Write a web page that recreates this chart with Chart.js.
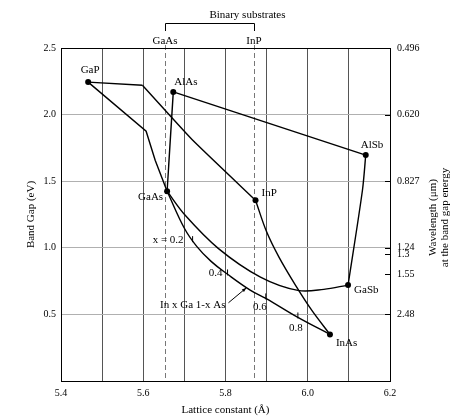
<!DOCTYPE html>
<html>
<head>
<meta charset="utf-8">
<script src="https://cdn.jsdelivr.net/npm/chart.js@4/dist/chart.umd.min.js"></script>
<style>
html,body{margin:0;padding:0;background:#fff;}
canvas{display:block;}
</style>
</head>
<body>
<canvas id="c" width="451" height="417"></canvas>
<script>
// ---- Data ----
const compounds = ['GaP', 'AlAs', 'GaAs', 'InP', 'AlSb', 'GaSb', 'InAs'];
const compoundA = [5.466, 5.673, 5.658, 5.873, 6.141, 6.098, 6.054];
const compoundE = [2.244, 2.170, 1.425, 1.357, 1.696, 0.720, 0.350];

const gapInpA = [5.466, 5.598];            // GaP -> kink (straight)
const gapInpE = [2.244, 2.220];
const kinkInpA = [5.598, 5.718, 5.873];    // kink -> InP
const kinkInpE = [2.220, 1.815, 1.357];

const gapGaasA = [5.466, 5.607, 5.629, 5.658];
const gapGaasE = [2.244, 1.875, 1.658, 1.425];

const alasGaasA = [5.673, 5.658];
const alasGaasE = [2.170, 1.425];

const alasAlsbA = [5.673, 6.141];
const alasAlsbE = [2.170, 1.696];

const alsbGasbA = [6.141, 6.133, 6.098];
const alsbGasbE = [1.696, 1.432, 0.720];

const inpInasA = [5.873, 5.900, 5.930, 5.970, 6.010, 6.054];
const inpInasE = [1.357, 1.120, 0.930, 0.720, 0.530, 0.350];

const ingaasA = [5.658, 5.700, 5.730, 5.765, 5.805, 5.861, 5.898, 5.976, 6.054];
const ingaasE = [1.425, 1.147, 1.011, 0.898, 0.801, 0.680, 0.620, 0.477, 0.350];

const gaasGasbA = [5.658, 5.702, 5.783, 5.885, 5.976, 6.039, 6.098];
const gaasGasbE = [1.425, 1.244, 0.994, 0.780, 0.680, 0.688, 0.720];

const fractionLabels = ['x = 0.2', '0.4', '0.6', '0.8'];
const fractionA = [5.720, 5.805, 5.898, 5.976];
const fractionE = [1.050, 0.800, 0.620, 0.477];

const substrateNames = ['GaAs', 'InP'];
const substrateA = [5.653, 5.869];

const wavelengthLabels = ['0.496', '0.620', '0.827', '1.24', '1.3', '1.55', '2.48'];
const wavelengthValues = [0.496, 0.620, 0.827, 1.24, 1.3, 1.55, 2.48];

const xTickMin = 5.4, xTickMax = 6.2;
const yMin = 0, yMax = 2.5;

// ---- Styles ----
const FONT = "'Liberation Serif', 'Times New Roman', serif";
const labelOffsets = {
  GaP:  {dx: 2,  dy: -12, align: 'center'},
  AlAs: {dx: 1,  dy: -10, align: 'left'},
  GaAs: {dx: -4, dy: 6,   align: 'right'},
  InP:  {dx: 6,  dy: -7,  align: 'left'},
  AlSb: {dx: -5, dy: -10, align: 'left'},
  GaSb: {dx: 6,  dy: 5,   align: 'left'},
  InAs: {dx: 6,  dy: 9,   align: 'left'}
};
const fractionOffsets = [
  {dx: -9, dy: -1, align: 'right'},
  {dx: -5, dy: -1, align: 'right'},
  {dx: -6, dy: 9, align: 'center'},
  {dx: -2, dy: 11, align: 'center'}
];

const pts = (a, e) => a.map((v, i) => ({x: v, y: e[i]}));
const lineDs = (a, e, tension) => ({
  data: pts(a, e), showLine: true, pointRadius: 0, borderColor: '#000',
  borderWidth: 1.4, tension: tension, fill: false
});

const energies = wavelengthValues.map(l => 1.24 / l);

const decor = {
  id: 'decor',
  beforeDatasetsDraw(chart) {
    const {ctx, chartArea: ca, scales: {x}} = chart;
    ctx.save();
    ctx.strokeStyle = '#777';
    ctx.lineWidth = 1;
    ctx.setLineDash([5, 3]);
    substrateA.forEach(a => {
      const px = Math.round(x.getPixelForValue(a)) + 0.5;
      ctx.beginPath();
      ctx.moveTo(px, ca.top - 3);
      ctx.lineTo(px, ca.bottom);
      ctx.stroke();
    });
    ctx.restore();
  },
  afterDraw(chart) {
    const {ctx, chartArea: ca, scales: {x, y}} = chart;
    ctx.save();
    // frame
    ctx.strokeStyle = '#000';
    ctx.lineWidth = 1;
    ctx.setLineDash([]);
    ctx.strokeRect(Math.round(ca.left) + 0.5, Math.round(ca.top) + 0.5,
      Math.round(ca.right - ca.left), Math.round(ca.bottom - ca.top));
    // inside ticks on the right axis
    energies.forEach(en => {
      const py = Math.round(y.getPixelForValue(en)) + 0.5;
      ctx.beginPath();
      ctx.moveTo(ca.right - 5, py);
      ctx.lineTo(ca.right, py);
      ctx.stroke();
    });
    // compound labels
    ctx.fillStyle = '#000';
    ctx.font = '11px ' + FONT;
    ctx.textBaseline = 'middle';
    compounds.forEach((name, i) => {
      const o = labelOffsets[name];
      ctx.textAlign = o.align;
      ctx.fillText(name, x.getPixelForValue(compoundA[i]) + o.dx, y.getPixelForValue(compoundE[i]) + o.dy);
    });
    // InGaAs composition ticks
    ctx.lineWidth = 1;
    fractionLabels.forEach((t, i) => {
      const px = x.getPixelForValue(fractionA[i]);
      const py = y.getPixelForValue(fractionE[i]);
      ctx.beginPath();
      ctx.moveTo(px, py - 5);
      ctx.lineTo(px, py + 1);
      ctx.stroke();
      const o = fractionOffsets[i];
      ctx.textAlign = o.align;
      ctx.fillText(t, px + o.dx, py + o.dy);
    });
    // In x Ga 1-x As label with arrow
    const ax = x.getPixelForValue(5.851), ay = y.getPixelForValue(0.700);
    ctx.textAlign = 'right';
    ctx.fillText('In x Ga 1-x As', ax - 21, ay + 17);
    ctx.beginPath();
    ctx.moveTo(ax - 18, ay + 15);
    ctx.lineTo(ax, ay);
    ctx.stroke();
    const ang = Math.atan2(15, -18);
    ctx.beginPath();
    ctx.moveTo(ax, ay);
    ctx.lineTo(ax + 5 * Math.cos(ang - 0.35), ay + 5 * Math.sin(ang - 0.35));
    ctx.lineTo(ax + 5 * Math.cos(ang + 0.35), ay + 5 * Math.sin(ang + 0.35));
    ctx.closePath();
    ctx.fill();
    // Binary substrates bracket
    const g = x.getPixelForValue(substrateA[0]), p = x.getPixelForValue(substrateA[1]);
    ctx.strokeStyle = '#000';
    ctx.beginPath();
    ctx.moveTo(Math.round(g) + 0.5, 31);
    ctx.lineTo(Math.round(g) + 0.5, 23.5);
    ctx.lineTo(Math.round(p) + 0.5, 23.5);
    ctx.lineTo(Math.round(p) + 0.5, 31);
    ctx.stroke();
    ctx.textAlign = 'center';
    ctx.fillText('Binary substrates', (g + p) / 2 + 38, 15);
    substrateNames.forEach((n, i) => {
      ctx.fillText(n, x.getPixelForValue(substrateA[i]), 41);
    });
    // axis titles
    ctx.fillText('Lattice constant (\u00C5)', (ca.left + ca.right) / 2, 410);
    ctx.save();
    ctx.translate(31, (ca.top + ca.bottom) / 2);
    ctx.rotate(-Math.PI / 2);
    ctx.fillText('Band Gap (eV)', 0, 0);
    ctx.restore();
    ctx.save();
    ctx.translate(433, (ca.top + ca.bottom) / 2 + 3);
    ctx.rotate(-Math.PI / 2);
    ctx.fillText('Wavelength (\u03BCm)', 0, 0);
    ctx.fillText('at the band gap energy', 0, 12);
    ctx.restore();
    ctx.restore();
  }
};

new Chart(document.getElementById('c'), {
  type: 'scatter',
  data: {
    datasets: [
      lineDs(gapInpA, gapInpE, 0),
      lineDs(kinkInpA, kinkInpE, 0.15),
      lineDs(gapGaasA, gapGaasE, 0),
      lineDs(alasGaasA, alasGaasE, 0),
      lineDs(alasAlsbA, alasAlsbE, 0),
      lineDs(alsbGasbA, alsbGasbE, 0.3),
      lineDs(inpInasA, inpInasE, 0.35),
      lineDs(ingaasA, ingaasE, 0.4),
      lineDs(gaasGasbA, gaasGasbE, 0.35),
      {
        data: pts(compoundA, compoundE), showLine: false, pointRadius: 3,
        pointBackgroundColor: '#000', pointBorderColor: '#000', pointBorderWidth: 0
      }
    ]
  },
  options: {
    responsive: false,
    animation: false,
    events: [],
    layout: {padding: {top: 48, left: 0, right: 0, bottom: 0}},
    plugins: {legend: {display: false}, tooltip: {enabled: false}},
    scales: {
      x: {
        type: 'linear', min: xTickMin, max: xTickMax,
        ticks: {
          stepSize: 0.1, autoSkip: false, maxRotation: 0, padding: 6, color: '#000',
          font: {family: FONT, size: 10},
          callback: v => (Math.round(v * 10) % 2 === 0 ? v.toFixed(1) : '')
        },
        grid: {color: '#555', lineWidth: 1, drawTicks: false},
        border: {color: '#000'},
        afterFit: s => { s.height = 36; }
      },
      y: {
        type: 'linear', min: yMin, max: yMax, position: 'left',
        ticks: {
          stepSize: 0.5, padding: 5, color: '#000',
          font: {family: FONT, size: 10},
          callback: v => (v === 0 ? '' : v.toFixed(1))
        },
        grid: {color: '#b0b0b0', lineWidth: 1, drawTicks: false},
        border: {color: '#000'},
        afterFit: s => { s.width = 61; }
      },
      y2: {
        type: 'linear', min: yMin, max: yMax, position: 'right',
        afterBuildTicks: s => { s.ticks = energies.map(v => ({value: v})); },
        ticks: {
          padding: 7, color: '#000', autoSkip: false,
          font: {family: FONT, size: 10},
          callback: (v, i) => wavelengthLabels[i]
        },
        grid: {drawOnChartArea: false, drawTicks: false},
        border: {color: '#000'},
        afterFit: s => { s.width = 61; }
      }
    }
  },
  plugins: [decor]
});
</script>
</body>
</html>
